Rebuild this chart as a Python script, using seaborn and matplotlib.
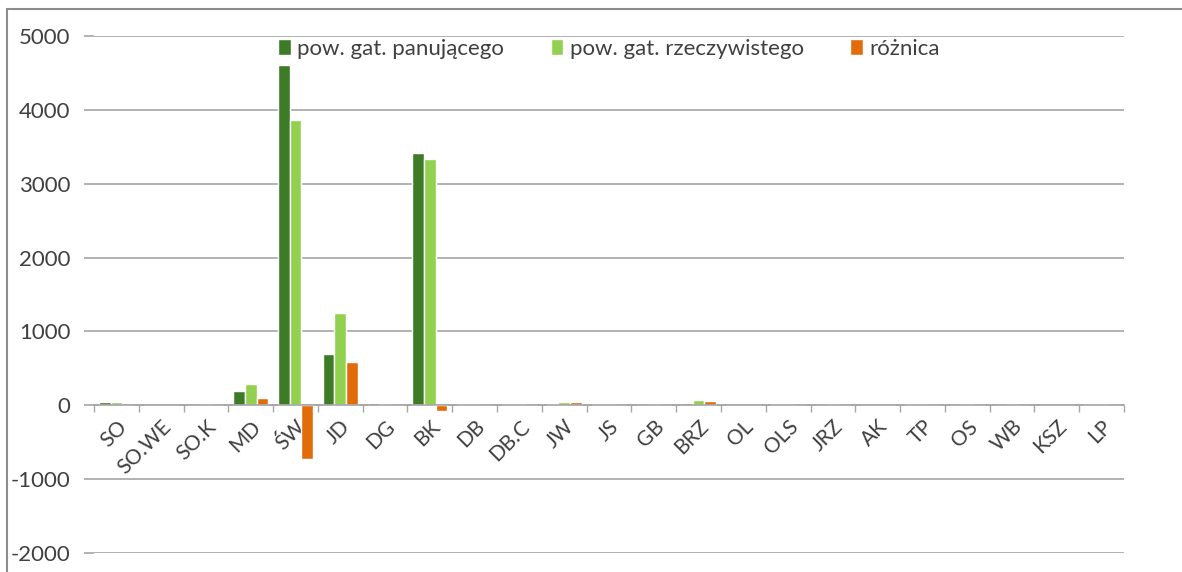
import numpy as np
import pandas as pd
import seaborn as sns
import matplotlib
matplotlib.use("Agg")
import matplotlib.pyplot as plt
from matplotlib.patches import Rectangle
from matplotlib.ticker import MultipleLocator, FixedLocator

# Species codes and surface areas
categories = ["SO", "SO.WE", "SO.K", "MD", "ŚW", "JD", "DG", "BK", "DB", "DB.C",
              "JW", "JS", "GB", "BRZ", "OL", "OLS", "JRZ", "AK", "TP", "OS",
              "WB", "KSZ", "LP"]
pow_panujacego = [50, 10, 10, 190, 4610, 690, 30, 3410, 15, 15,
                  20, 15, 10, 30, 10, 15, 10, 10, 15, 10, 10, 10, 15]
pow_rzeczywistego = [45, 10, 12, 290, 3860, 1255, 20, 3330, 15, 15,
                     40, 15, 12, 70, 10, 15, 12, 10, 15, 12, 12, 10, 15]
roznica = [-5, 0, 2, 100, -730, 580, -10, -80, 0, 0,
           50, 0, 2, 60, 0, 0, 2, 0, 0, 2, 2, 0, 0]

series_names = ["pow. gat. panującego", "pow. gat. rzeczywistego", "różnica"]
colors = ["#3E7B27", "#92D050", "#E36C0A"]

df = pd.DataFrame({
    "gatunek": categories * 3,
    "wartosc": pow_panujacego + pow_rzeczywistego + roznica,
    "seria": sum([[s] * len(categories) for s in series_names], []),
})

sns.set_theme(style="white")
plt.rcParams["font.family"] = ["Lato", "DejaVu Sans"]
plt.rcParams["axes.unicode_minus"] = False

text_color = "#404040"
grid_color = "#A6A6A6"

fig = plt.figure(figsize=(11.82, 5.72), dpi=100)
ax = fig.add_axes([94 / 1182, 1 - 553 / 572, (1124 - 94) / 1182, (553 - 36) / 572])

sns.barplot(data=df, x="gatunek", y="wartosc", hue="seria", order=categories,
            hue_order=series_names, palette=colors, width=0.78, saturation=1,
            ax=ax, legend=True)

ax.set_xlim(-0.5, len(categories) - 0.5)
ax.set_ylim(-2000, 5000)
ax.yaxis.set_major_locator(MultipleLocator(1000))
ax.grid(axis="y", color=grid_color, linewidth=1.2)
ax.set_axisbelow(True)

for side in ["left", "right", "top"]:
    ax.spines[side].set_visible(False)
ax.spines["bottom"].set_position(("data", 0))
ax.spines["bottom"].set_color(grid_color)
ax.spines["bottom"].set_linewidth(1.2)

ax.set_xlabel("")
ax.set_ylabel("")

# Category boundaries get the tick marks; labels stay centred
ax.xaxis.set_minor_locator(FixedLocator(np.arange(-0.5, len(categories), 1.0)))
ax.tick_params(axis="x", which="major", length=0, pad=8, labelsize=15,
               labelcolor=text_color)
ax.tick_params(axis="x", which="minor", length=5, width=1, color=grid_color,
               direction="out", bottom=True)
ax.tick_params(axis="y", length=7, width=1.2, color=grid_color, left=True,
               labelsize=16, labelcolor=text_color, pad=10)
for lab in ax.get_xticklabels():
    lab.set_rotation(45)
    lab.set_ha("right")
    lab.set_rotation_mode("anchor")

handles, labels = ax.get_legend_handles_labels()
ax.legend(handles, labels, loc="upper center", bbox_to_anchor=(0.50, 1.012),
          ncol=3, frameon=False, fontsize=16, handlelength=0.55,
          handleheight=0.7, handletextpad=0.3, columnspacing=2.1,
          labelcolor=text_color, borderaxespad=0.0)

# Light frame around the chart area
fig.patches.append(Rectangle((7 / 1182, -0.1), 1.2, 1 - 9 / 572 + 0.1,
                             transform=fig.transFigure, fill=False,
                             edgecolor="#8C8C8C", linewidth=1.5))

fig.savefig("out.png", dpi=100, facecolor="white")
